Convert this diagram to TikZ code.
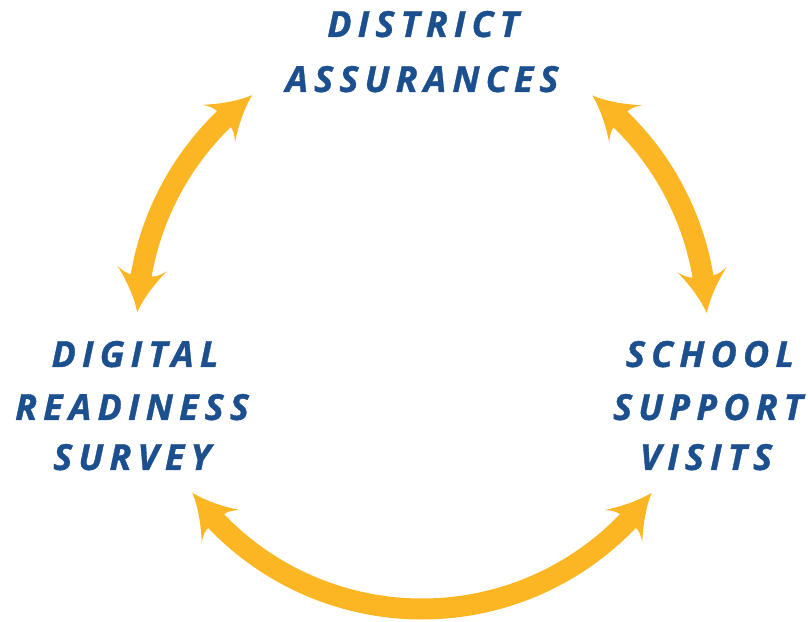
\documentclass[tikz,border=0pt]{standalone}
\usepackage{fontspec}
\newfontfamily\lblfont[LetterSpace=17,FakeBold=1]{Open Sans}
\begin{document}
\begin{tikzpicture}[x=1pt,y=1pt]
\definecolor{navy}{RGB}{27,79,141}
\definecolor{gold}{RGB}{253,182,35}
\tikzset{
  lbl/.style={font=\lblfont\bfseries\itshape\fontsize{36}{42}\selectfont, text=navy, anchor=base, inner sep=0pt},
  shaft/.style={draw=gold, line width=21pt},
  head/.pic={\fill[gold] (0,0) .. controls (-15,5) and (-30,14) .. (-44,25)
      .. controls (-39,19) and (-37,14) .. (-37,10.5) -- (-37,-10.5)
      .. controls (-37,-14) and (-39,-19) .. (-44,-25)
      .. controls (-30,-14) and (-15,-5) .. (0,0) -- cycle;}
}
\path[use as bounding box] (0,0) rectangle (808,621);
\coordinate (O) at (422,297);

% labels
\node[lbl] (da1) at (423,584) {DISTRICT};
\node[lbl] (da2) at (422,529) {ASSURANCES};
\node[lbl] (dr1) at (135,254) {DIGITAL};
\node[lbl] (dr2) at (132,201) {READINESS};
\node[lbl] (dr3) at (132,151) {SURVEY};
\node[lbl] (sv1) at (710,254) {SCHOOL};
\node[lbl] (sv2) at (708,201) {SUPPORT};
\node[lbl] (sv3) at (706,151) {VISITS};

% tips
\coordinate (L1) at ([shift={(126.6:285)}]O);
\coordinate (L2) at ([shift={(177.6:285)}]O);
\coordinate (R1) at ([shift={(53.3:285)}]O);
\coordinate (R2) at ([shift={(2.2:285)}]O);
\coordinate (B1) at ([shift={(216.3:285)}]O);
\coordinate (B2) at ([shift={(323.7:285)}]O);

% left arrow
\draw[shaft] ([shift={(133.3:285)}]O) arc[start angle=133.3, end angle=170.9, radius=285];
\pic[rotate=40.6] at (L1) {head};
\pic[rotate=263.6] at (L2) {head};
% right arrow
\draw[shaft] ([shift={(8.9:285)}]O) arc[start angle=8.9, end angle=46.6, radius=285];
\pic[rotate=139.3] at (R1) {head};
\pic[rotate=-83.8] at (R2) {head};
% bottom arrow
\draw[shaft] ([shift={(223.0:285)}]O) arc[start angle=223.0, end angle=317.0, radius=285];
\pic[rotate=130.3] at (B1) {head};
\pic[rotate=49.7] at (B2) {head};
\end{tikzpicture}
\end{document}
